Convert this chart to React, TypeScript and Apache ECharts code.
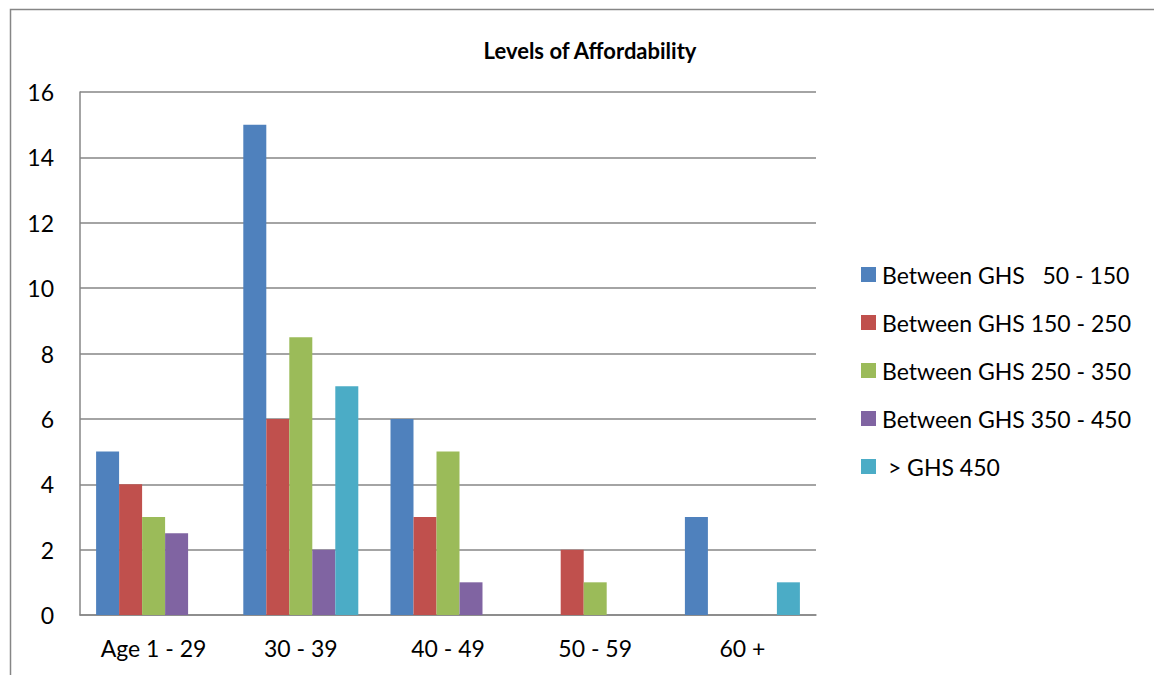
import React, { useEffect, useRef } from "react";
import * as echarts from "echarts";

const categories = ["Age 1 - 29", "30 - 39", "40 - 49", "50 - 59", "60 +"];
const seriesNames = [
  "Between GHS   50 - 150",
  "Between GHS 150 - 250",
  "Between GHS 250 - 350",
  "Between GHS 350 - 450",
  " > GHS 450",
];
const s1 = [5, 15, 6, 0, 3];
const s2 = [4, 6, 3, 2, 0];
const s3 = [3, 8.5, 5, 1, 0];
const s4 = [2.5, 2, 1, 0, 0];
const s5 = [0, 7, 0, 0, 1];
const colors = ["#4F81BD", "#C0504D", "#9BBB59", "#8064A2", "#4BACC6"];

const FONT = "Lato";

export default function App() {
  const ref = useRef<HTMLDivElement>(null);
  useEffect(() => {
    if (!ref.current) return;
    const chart = echarts.init(ref.current, null, { renderer: "svg" });
    const data = [s1, s2, s3, s4, s5];
    chart.setOption({
      animation: false,
      backgroundColor: "#ffffff",
      color: colors,
      title: {
        text: "Levels of Affordability",
        left: 585,
        textAlign: "center",
        top: 34,
        textStyle: { fontFamily: FONT, fontSize: 22, fontWeight: "bold", color: "#000" },
      },
      graphic: [
        {
          type: "rect",
          shape: { x: 10.5, y: 9.5, width: 1160, height: 700 },
          style: { fill: "none", stroke: "#868686", lineWidth: 1.5 },
          silent: true,
        },
      ],
      legend: {
        orient: "vertical",
        left: 856,
        top: 258,
        itemWidth: 15,
        itemHeight: 15,
        itemGap: 25,
        icon: "rect",
        textStyle: { fontFamily: FONT, fontSize: 23, color: "#000", padding: [0, 0, 0, 1] },
        data: seriesNames,
      },
      grid: { left: 80, top: 92, width: 736, height: 523, containLabel: false },
      xAxis: {
        type: "category",
        data: categories,
        axisLine: { show: true, lineStyle: { color: "#868686", width: 1.5 } },
        axisTick: { show: false },
        axisLabel: { fontFamily: FONT, fontSize: 23, color: "#000", margin: 21 },
        splitLine: { show: false },
      },
      yAxis: {
        type: "value",
        min: 0,
        max: 16,
        interval: 2,
        axisLine: { show: true, lineStyle: { color: "#868686", width: 1.5 } },
        axisTick: { show: false },
        axisLabel: { fontFamily: FONT, fontSize: 23, color: "#000", margin: 26 },
        splitLine: { show: true, lineStyle: { color: "#868686", width: 1.5 } },
      },
      series: data.map((d, i) => ({
        name: seriesNames[i],
        type: "bar",
        data: d,
        barWidth: 23,
        barGap: "0%",
        itemStyle: { color: colors[i] },
      })),
    });
    return () => chart.dispose();
  }, []);
  return (
    <div
      ref={ref}
      style={{ position: "fixed", left: 0, top: 0, width: 1154, height: 675 }}
    />
  );
}
